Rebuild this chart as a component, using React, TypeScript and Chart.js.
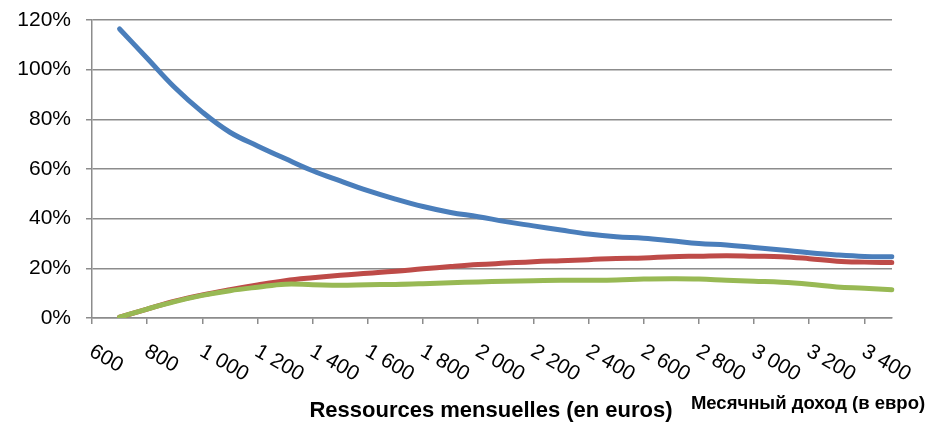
import React, { useEffect, useRef } from "react";
import { Chart, registerables } from "chart.js";

Chart.register(...registerables);

const categories = [
  600, 700, 800, 900, 1000, 1100, 1200, 1300, 1400, 1500, 1600, 1700, 1800, 1900, 2000,
  2100, 2200, 2300, 2400, 2500, 2600, 2700, 2800, 2900, 3000, 3100, 3200, 3300, 3400, 3500,
];

const xTickLabels = [
  "600", "800", "1 000", "1 200", "1 400", "1 600", "1 800", "2 000",
  "2 200", "2 400", "2 600", "2 800", "3 000", "3 200", "3 400",
];

const blueSeries = [
  null, 116.4, 104.6, 92.8, 82.9, 74.8, 69.3, 64.2, 59.3, 55.2, 51.3, 47.9, 44.9, 42.5, 40.8,
  38.8, 37.1, 35.4, 33.8, 32.7, 32.1, 31.1, 30.0, 29.4, 28.4, 27.4, 26.3, 25.4, 24.8, 24.7,
];

const redSeries = [
  null, 0.3, 3.6, 6.8, 9.3, 11.4, 13.3, 15.0, 16.2, 17.2, 18.0, 18.8, 19.8, 20.7, 21.5,
  22.1, 22.7, 23.1, 23.5, 24.0, 24.2, 24.7, 24.9, 25.1, 24.9, 24.7, 23.9, 22.9, 22.5, 22.3,
];

const greenSeries = [
  null, 0.3, 3.6, 6.6, 9.1, 11.0, 12.4, 13.6, 13.4, 13.2, 13.4, 13.5, 13.8, 14.2, 14.5,
  14.8, 15.0, 15.2, 15.2, 15.3, 15.7, 15.8, 15.7, 15.2, 14.8, 14.4, 13.6, 12.5, 12.0, 11.4,
];

const xTitle = "Ressources mensuelles (en euros)";
const xTitleRu = "Месячный доход (в евро)";

const FONT = "'Liberation Sans', Arial, sans-serif";
const GRID = "#8c8c8c";

const labelsPlugin = {
  id: "customLabels",
  afterDraw(chart: any) {
    const ctx = chart.ctx;
    const xs = chart.scales.x;
    const area = chart.chartArea;
    ctx.save();
    ctx.fillStyle = "#000";
    ctx.font = `21px ${FONT}`;
    ctx.textAlign = "left";
    ctx.textBaseline = "middle";
    xTickLabels.forEach((lab) => {
      const v = Number(lab.replace(/\s/g, ""));
      const idx = categories.indexOf(v);
      if (idx < 0) return;
      const px = xs.getPixelForValue(idx);
      ctx.save();
      ctx.translate(px - 1, area.bottom + 32);
      ctx.rotate((30 * Math.PI) / 180);
      ctx.fillText(lab, 0, 0);
      ctx.restore();
    });
    ctx.font = `bold 22px ${FONT}`;
    ctx.textAlign = "center";
    ctx.fillText(xTitle, 491, 411);
    ctx.font = `bold 18.5px ${FONT}`;
    ctx.fillText(xTitleRu, 808, 404);
    ctx.restore();
  },
};

export default function App() {
  const ref = useRef<HTMLCanvasElement | null>(null);
  useEffect(() => {
    if (!ref.current) return;
    const common = {
      pointRadius: 0,
      borderWidth: 5,
      borderCapStyle: "round" as const,
      borderJoinStyle: "round" as const,
      tension: 0.4,
      fill: false,
      spanGaps: false,
    };
    const chart = new Chart(ref.current, {
      type: "line",
      data: {
        labels: categories.map(String),
        datasets: [
          { ...common, label: "blue", data: blueSeries, borderColor: "#4A7EBB", order: 2 },
          { ...common, label: "red", data: redSeries, borderColor: "#BE4B48", order: 1 },
          { ...common, label: "green", data: greenSeries, borderColor: "#98B954", order: 0 },
        ],
      },
      options: {
        responsive: false,
        animation: false,
        devicePixelRatio: 1,
        layout: { padding: { left: 0, right: 44, top: 20, bottom: 0 } },
        plugins: { legend: { display: false }, tooltip: { enabled: false } },
        scales: {
          x: {
            type: "category",
            offset: false,
            ticks: { display: false, autoSkip: false },
            grid: {
              drawOnChartArea: false,
              drawTicks: true,
              tickLength: 6,
              lineWidth: 1.5,
              tickColor: (c: any) => (c.index % 2 === 0 ? GRID : "rgba(0,0,0,0)"),
            },
            border: { display: true, color: GRID, width: 1.5 },
            afterFit: (s: any) => {
              s.height = 106;
            },
          },
          y: {
            min: 0,
            max: 120,
            ticks: {
              stepSize: 20,
              padding: 15,
              color: "#000",
              font: { family: FONT, size: 21 },
              callback: (v: any) => `${v}%`,
            },
            grid: {
              color: GRID,
              lineWidth: 1.5,
              drawTicks: true,
              tickLength: 6,
              tickColor: GRID,
            },
            border: { display: true, color: GRID, width: 1.5 },
            afterFit: (s: any) => {
              s.width = 92;
              s.paddingTop = 0;
              s.paddingBottom = 0;
            },
          },
        },
      },
      plugins: [labelsPlugin],
    });
    return () => chart.destroy();
  }, []);
  return (
    <div style={{ position: "absolute", left: 0, top: 0, width: 936, height: 424, background: "#fff" }}>
      <canvas ref={ref} width={936} height={424} />
    </div>
  );
}
